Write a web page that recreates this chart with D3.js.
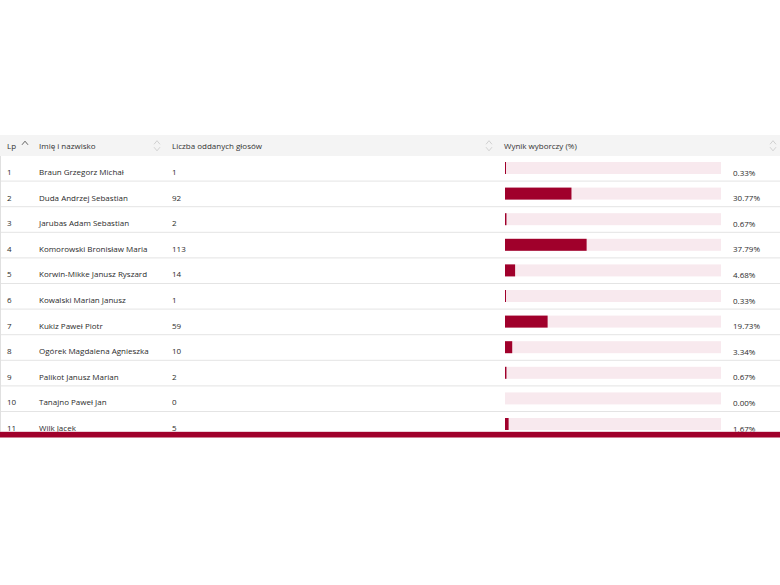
<!DOCTYPE html>
<html>
<head>
<meta charset="utf-8">
<script src="https://cdn.jsdelivr.net/npm/d3@7"></script>
<style>
  body { margin: 0; background: #fff; }
  svg { display: block; font-family: "Open Sans", sans-serif; }
</style>
</head>
<body>
<div id="chart"></div>
<script>
// Table data
const lp = [1, 2, 3, 4, 5, 6, 7, 8, 9, 10, 11];
const names = [
    "Braun Grzegorz Michał",
    "Duda Andrzej Sebastian",
    "Jarubas Adam Sebastian",
    "Komorowski Bronisław Maria",
    "Korwin-Mikke Janusz Ryszard",
    "Kowalski Marian Janusz",
    "Kukiz Paweł Piotr",
    "Ogórek Magdalena Agnieszka",
    "Palikot Janusz Marian",
    "Tanajno Paweł Jan",
    "Wilk Jacek"
];
const votes = [1, 92, 2, 113, 14, 1, 59, 10, 2, 0, 5];
const percents = [0.33, 30.77, 0.67, 37.79, 4.68, 0.33, 19.73, 3.34, 0.67, 0.00, 1.67];
const headers = ["Lp", "Imię i nazwisko", "Liczba oddanych głosów", "Wynik wyborczy (%)"];

const fullWidth = 780,
    fullHeight = 585,
    headerTop = 135,
    headerHeight = 21,
    rowHeight = 25.6,
    tableBottom = 432;

const colX = [7, 39, 172, 504];

const svg = d3.select("#chart")
    .append("svg")
    .attr("width", fullWidth)
    .attr("height", fullHeight);

// Row scale
const y = d3.scaleBand()
    .domain(lp)
    .range([headerTop + headerHeight, headerTop + headerHeight + lp.length * rowHeight])
    .padding(0);

// Bar scale (0-100%)
const x = d3.scaleLinear()
    .domain([0, 100])
    .range([505, 721]);

// Header background
svg.append("rect")
    .attr("x", 0)
    .attr("y", headerTop)
    .attr("width", fullWidth)
    .attr("height", headerHeight)
    .attr("fill", "#f4f4f4");

svg.selectAll(".header")
    .data(headers)
    .join("text")
    .attr("class", "header")
    .attr("x", (d, i) => colX[i])
    .attr("y", headerTop + 13.5)
    .attr("fill", "#333")
    .style("font-size", "8px")
    .text(d => d);

// Sort icons
const chevron = (cx, cy, up) => {
    const s = up ? 1 : -1;
    return `M${cx - 3},${cy + 1.8 * s} L${cx},${cy - 1.8 * s} L${cx + 3},${cy + 1.8 * s}`;
};
svg.append("path")
    .attr("d", chevron(25, 143, true))
    .attr("fill", "none")
    .attr("stroke", "#555")
    .attr("stroke-width", 0.9);
[157, 489, 773].forEach(cx => {
    svg.append("path")
        .attr("d", chevron(cx, 142.5, true) + " " + chevron(cx, 149, false))
        .attr("fill", "none")
        .attr("stroke", "#c8c8c8")
        .attr("stroke-width", 0.8);
});

// Rows (clipped at the bottom border)
svg.append("clipPath")
    .attr("id", "rows-clip")
    .append("rect")
    .attr("x", 0)
    .attr("y", headerTop + headerHeight)
    .attr("width", fullWidth)
    .attr("height", tableBottom - headerTop - headerHeight);

const rows = svg.append("g")
    .attr("clip-path", "url(#rows-clip)")
    .selectAll(".row")
    .data(lp.map((d, i) => ({ lp: d, name: names[i], votes: votes[i], pct: percents[i] })))
    .join("g")
    .attr("class", "row")
    .attr("transform", d => `translate(0,${y(d.lp)})`);

// Separator lines
rows.append("line")
    .attr("x1", 0)
    .attr("x2", fullWidth)
    .attr("y1", y.bandwidth() - 0.5)
    .attr("y2", y.bandwidth() - 0.5)
    .attr("stroke", "#e4e4e4")
    .attr("stroke-width", 1);

rows.append("text")
    .attr("x", colX[0])
    .attr("y", 19)
    .text(d => d.lp);
rows.append("text")
    .attr("x", colX[1])
    .attr("y", 19)
    .text(d => d.name);
rows.append("text")
    .attr("x", colX[2])
    .attr("y", 19)
    .text(d => d.votes);
rows.selectAll("text")
    .attr("fill", "#2b2b2b")
    .style("font-size", "8px");

// Bar track
rows.append("rect")
    .attr("x", x(0))
    .attr("y", 6)
    .attr("width", x(100) - x(0))
    .attr("height", 12)
    .attr("fill", "#f8e9ee");

// Bar value
rows.append("rect")
    .attr("x", x(0))
    .attr("y", 6)
    .attr("width", d => d.pct > 0 ? Math.max(1, x(d.pct) - x(0)) : 0)
    .attr("height", 12)
    .attr("fill", "#a0002b");

rows.append("text")
    .attr("x", 733)
    .attr("y", 19.5)
    .attr("fill", "#2b2b2b")
    .style("font-size", "8px")
    .text(d => d.pct.toFixed(2) + "%");

// Left border
svg.append("line")
    .attr("x1", 0.5)
    .attr("x2", 0.5)
    .attr("y1", headerTop + headerHeight)
    .attr("y2", tableBottom)
    .attr("stroke", "#e0e0e0");

// Bottom red border
svg.append("rect")
    .attr("x", 0)
    .attr("y", tableBottom - 0.5)
    .attr("width", fullWidth)
    .attr("height", 1)
    .attr("fill", "#d9a0b0");
svg.append("rect")
    .attr("x", 0)
    .attr("y", tableBottom)
    .attr("width", fullWidth)
    .attr("height", 5.5)
    .attr("fill", "#a0002b");
</script>
</body>
</html>
